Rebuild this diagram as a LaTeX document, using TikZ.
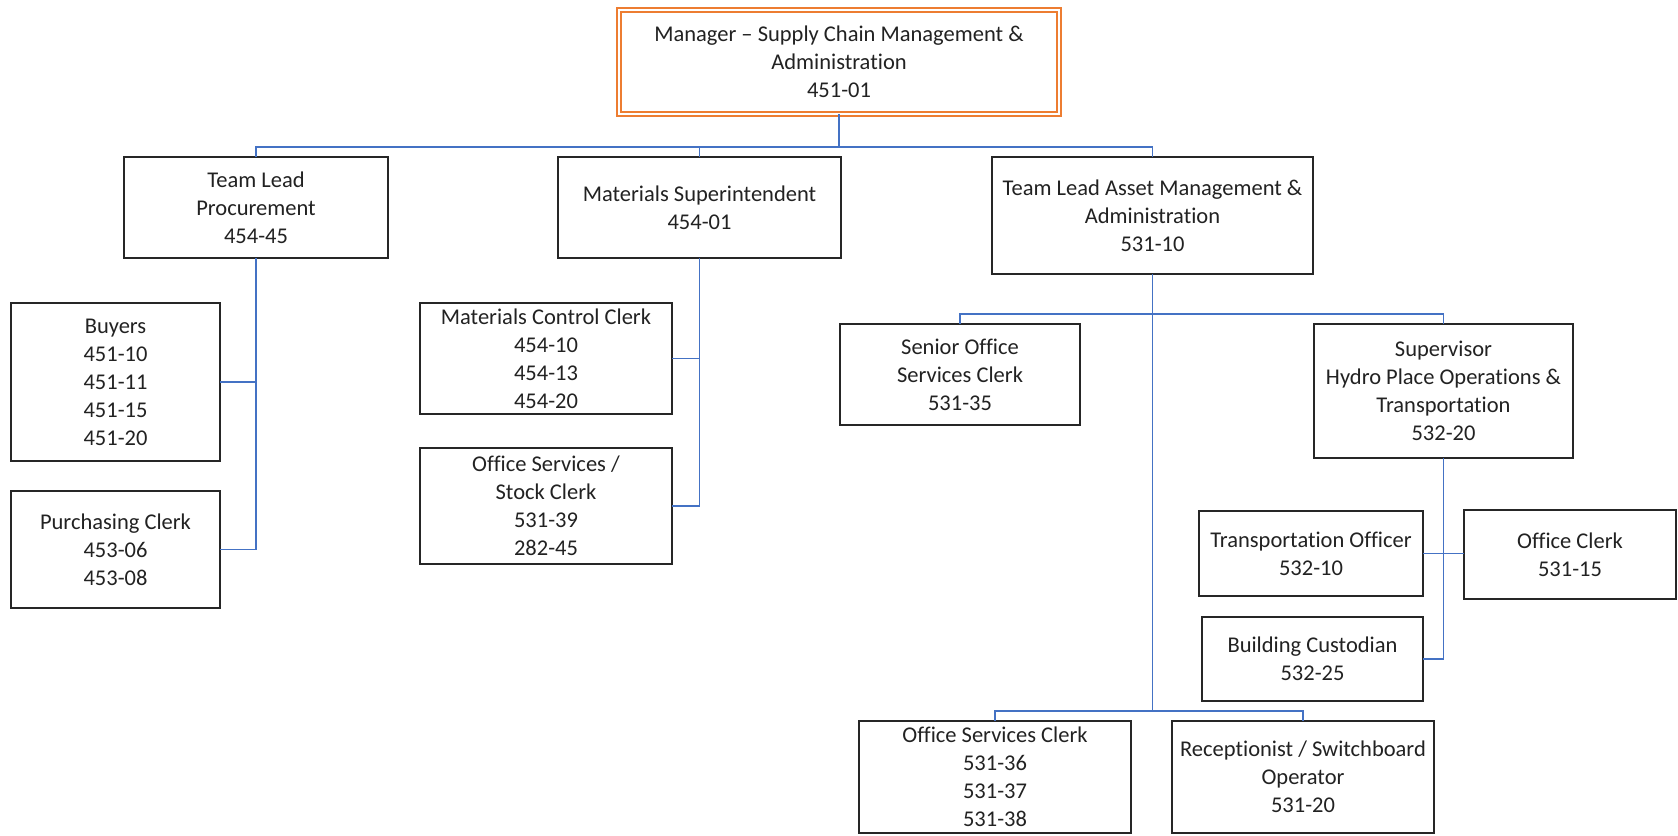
\documentclass[tikz,border=0pt]{standalone}
\usepackage{fontspec}
\setmainfont{Carlito}[Ligatures={NoCommon}]
\definecolor{connblue}{HTML}{4472C4}
\definecolor{mgrorange}{HTML}{ED7D31}
\definecolor{txtgray}{HTML}{222222}
\begin{document}
\begin{tikzpicture}[x=1pt,y=-1pt,
  box/.style={draw=black!85, line width=1.8pt, fill=white, rectangle, inner sep=0pt, outer sep=0pt,
    align=center, text=txtgray, font=\fontsize{22.5pt}{28pt}\selectfont},
  mgrbox/.style={box, draw=mgrorange, double=white, double distance=2.6pt, line width=1.4pt},
  conn/.style={draw=connblue, line width=1.8pt}]
\useasboundingbox (0,0) rectangle (1678,835);
\fill[white] (0,0) rectangle (1678,835);

\coordinate (b1) at (0,147);
\coordinate (b2) at (0,314);
\coordinate (b3) at (0,711);

% nodes
\node[mgrbox, minimum width=440pt, minimum height=104pt] (mgr) at (839,62)
  {Manager -- Supply Chain Management \&\\Administration\\451-01};
\node[box, minimum width=264pt, minimum height=101pt] (tlp) at (256,207.5)
  {Team Lead\\Procurement\\454-45};
\node[box, minimum width=283pt, minimum height=101pt] (ms) at (699.5,207.5)
  {Materials Superintendent\\454-01};
\node[box, minimum width=321pt, minimum height=117pt] (tla) at (1152.5,215.5)
  {Team Lead Asset Management \&\\Administration\\531-10};
\node[box, minimum width=209pt, minimum height=158pt] (buy) at (115.5,382)
  {Buyers\\451-10\\451-11\\451-15\\451-20};
\node[box, minimum width=209pt, minimum height=117pt] (pc) at (115.5,549.5)
  {Purchasing Clerk\\453-06\\453-08};
\node[box, minimum width=252pt, minimum height=111pt] (mcc) at (546,358.5)
  {Materials Control Clerk\\454-10\\454-13\\454-20};
\node[box, minimum width=252pt, minimum height=116pt] (oss) at (546,506)
  {Office Services /\\Stock Clerk\\531-39\\282-45};
\node[box, minimum width=240pt, minimum height=101pt] (soc) at (960,374.5)
  {Senior Office\\Services Clerk\\531-35};
\node[box, minimum width=259pt, minimum height=134pt] (sup) at (1443.5,391)
  {Supervisor\\Hydro Place Operations \&\\Transportation\\532-20};
\node[box, minimum width=224pt, minimum height=85pt] (to) at (1311,553.5)
  {Transportation Officer\\532-10};
\node[box, minimum width=212pt, minimum height=89pt] (oc) at (1570,554.5)
  {Office Clerk\\531-15};
\node[box, minimum width=221pt, minimum height=84pt] (bc) at (1312.5,659)
  {Building Custodian\\532-25};
\node[box, minimum width=272pt, minimum height=112pt] (osc) at (995,777)
  {Office Services Clerk\\531-36\\531-37\\531-38};
\node[box, minimum width=262pt, minimum height=112pt] (rec) at (1303,777)
  {Receptionist / Switchboard\\Operator\\531-20};

% connectors
\draw[conn] (mgr.south) -- (mgr.south |- b1);
\draw[conn] (tlp.north) -- (tlp.north |- b1) -- (tla.north |- b1) -- (tla.north);
\draw[conn] (ms.north) -- (ms.north |- b1);

\draw[conn] (tlp.south) |- (pc.east);
\draw[conn] (buy.east) -- (buy.east -| tlp.south);

\draw[conn] (ms.south) |- (oss.east);
\draw[conn] (mcc.east) -- (mcc.east -| ms.south);

\draw[conn] (tla.south) -- (tla.south |- b3);
\draw[conn] (soc.north) -- (soc.north |- b2) -- (sup.north |- b2) -- (sup.north);
\draw[conn] (osc.north) -- (osc.north |- b3) -- (rec.north |- b3) -- (rec.north);

\draw[conn] (sup.south) |- (bc.east);
\draw[conn] (to.east) -- (to.east -| oc.west);
\end{tikzpicture}
\end{document}
